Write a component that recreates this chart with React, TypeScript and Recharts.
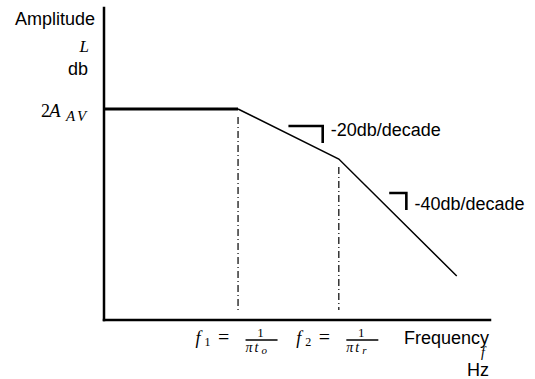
import { ComposedChart, Line, XAxis, YAxis, ReferenceLine, ReferenceDot, Label } from 'recharts';

// frequency in decades relative to f1, gain in dB relative to 2A_AV
const passbandDecade = [-1.33, 0];
const passbandDb = [0, 0];
const rolloffDecade = [0, 1, 2.17];
const rolloffDb = [0, -20, -66.8];

const cornerDecade = [0, 1];
const cornerIndex = ['1', '2'];
const cornerSub = ['o', 'r'];
const guideTopDb = [-3.2, -23.2];
const guideBottomDb = -80.4;

const slopeMarkDecade = [
  [0.5, 0.84, 0.84],
  [1.5, 1.67, 1.67],
];
const slopeMarkDb = [
  [-6.8, -6.8, -13.6],
  [-33.6, -33.6, -40.4],
];
const slopeTextDecade = [0.92, 1.75];
const slopeTextDb = [-8.4, -38];
const slopeText = ['-20db/decade', '-40db/decade'];

const gainTicks = [0];
const xDomain = [-1.33, 2.5];
const yDomain = [-84.4, 40.4];

const SERIF = '"Liberation Serif", "Times New Roman", serif';
const SANS = '"Liberation Sans", Arial, Helvetica, sans-serif';

const toPoints = (xs: number[], ys: number[]) => xs.map((d, i) => ({ decade: d, db: ys[i] }));

function GainTick({ x, y }: any) {
  return (
    <g fontFamily={SERIF} fill="#000">
      <text x={x - 63} y={y + 8} fontSize={18}>2</text>
      <text x={x - 55} y={y + 8} fontSize={19} fontStyle="italic" letterSpacing={2}>A</text>
      <text x={x - 38} y={y + 12} fontSize={15} fontStyle="italic" letterSpacing={2.5}>AV</text>
    </g>
  );
}

function CornerTick(props: any) {
  const x = Number(props.x);
  const y = Number(props.y);
  const i = cornerDecade.indexOf(props.payload.value);
  const c = x - 1.5;
  const base = y + 25;
  return (
    <g fontFamily={SERIF}>
      <text x={c - 41} y={base - 1} fontSize={18} fontStyle="italic" fill="#000">f</text>
      <text x={c - 32} y={base + 1} fontSize={12} fill="#000">{cornerIndex[i]}</text>
      <text x={c - 13} y={base - 1} fontSize={20} textAnchor="middle" fill="#000">=</text>
      <text x={c + 24} y={base - 8} fontSize={13} textAnchor="middle" fill="#000">1</text>
      <line x1={c + 9} y1={base - 5} x2={c + 41} y2={base - 5} stroke="#000" strokeWidth={1.3} />
      <text x={c + 9} y={base + 7} fontSize={14} fontStyle="italic" fill="#000">π</text>
      <text x={c + 18} y={base + 7} fontSize={14} fontStyle="italic" fill="#000">t</text>
      <text x={c + 25} y={base + 9} fontSize={11} fontStyle="italic" fill="#000">{cornerSub[i]}</text>
    </g>
  );
}

function AmplitudeLabel({ viewBox }: any) {
  const vb = viewBox ?? { x: 0, y: 8, width: 104, height: 312 };
  const right = vb.x + vb.width - 9;
  const top = vb.y;
  return (
    <g fill="#000">
      <text x={right} y={top + 17} textAnchor="end" fontFamily={SANS} fontSize={18}>Amplitude</text>
      <text x={right - 6} y={top + 44} textAnchor="end" fontFamily={SERIF} fontStyle="italic" fontSize={17}>L</text>
      <text x={right - 7} y={top + 67} textAnchor="end" fontFamily={SANS} fontSize={18}>db</text>
    </g>
  );
}

function FrequencyLabel({ viewBox }: any) {
  const vb = viewBox ?? { x: 104, y: 320, width: 386, height: 59 };
  const right = vb.x + vb.width - 1;
  const top = vb.y;
  return (
    <g fill="#000">
      <text x={right} y={top + 24} textAnchor="end" fontFamily={SANS} fontSize={18}>Frequency</text>
      <text x={right - 6} y={top + 37} textAnchor="middle" fontFamily={SERIF} fontStyle="italic" fontSize={14}>f</text>
      <text x={right} y={top + 56} textAnchor="end" fontFamily={SANS} fontSize={18}>Hz</text>
    </g>
  );
}

export default function App() {
  return (
    <div style={{ position: 'absolute', left: 0, top: 0, width: 535, height: 379, background: '#fff' }}>
      <ComposedChart width={535} height={379} margin={{ top: 8, right: 45, bottom: 0, left: 0 }}>
        <XAxis
          type="number"
          dataKey="decade"
          domain={xDomain}
          ticks={cornerDecade}
          tick={<CornerTick />}
          tickLine={false}
          tickSize={0}
          tickMargin={0}
          height={59}
          axisLine={{ stroke: '#000', strokeWidth: 2.5, strokeLinecap: 'square' }}
          allowDataOverflow
        >
          <Label content={FrequencyLabel} />
        </XAxis>
        <YAxis
          type="number"
          dataKey="db"
          domain={yDomain}
          ticks={gainTicks}
          tick={<GainTick />}
          tickLine={false}
          tickSize={0}
          tickMargin={0}
          width={104}
          axisLine={{ stroke: '#000', strokeWidth: 2.5, strokeLinecap: 'square' }}
          allowDataOverflow
        >
          <Label content={AmplitudeLabel} />
        </YAxis>

        {cornerDecade.map((d, i) => (
          <ReferenceLine
            key={`guide-${i}`}
            segment={[
              { x: d, y: guideTopDb[i] },
              { x: d, y: guideBottomDb },
            ]}
            stroke="#000"
            strokeWidth={1.2}
            strokeDasharray="7 3 1 3"
          />
        ))}

        <Line
          data={toPoints(passbandDecade, passbandDb)}
          dataKey="db"
          type="linear"
          stroke="#000"
          strokeWidth={3}
          dot={false}
          activeDot={false}
          isAnimationActive={false}
        />
        <Line
          data={toPoints(rolloffDecade, rolloffDb)}
          dataKey="db"
          type="linear"
          stroke="#000"
          strokeWidth={1.5}
          dot={false}
          activeDot={false}
          isAnimationActive={false}
        />
        {slopeMarkDecade.map((xs, i) => (
          <Line
            key={`mark-${i}`}
            data={toPoints(xs, slopeMarkDb[i])}
            dataKey="db"
            type="linear"
            stroke="#000"
            strokeWidth={2.6}
            strokeLinejoin="miter"
            dot={false}
            activeDot={false}
            isAnimationActive={false}
          />
        ))}
        {slopeText.map((t, i) => (
          <ReferenceDot
            key={`slope-${i}`}
            x={slopeTextDecade[i]}
            y={slopeTextDb[i]}
            r={0}
            fill="none"
            stroke="none"
            label={{ value: t, position: 'right', offset: 0, fill: '#000', fontSize: 18, fontFamily: SANS }}
          />
        ))}
      </ComposedChart>
    </div>
  );
}
